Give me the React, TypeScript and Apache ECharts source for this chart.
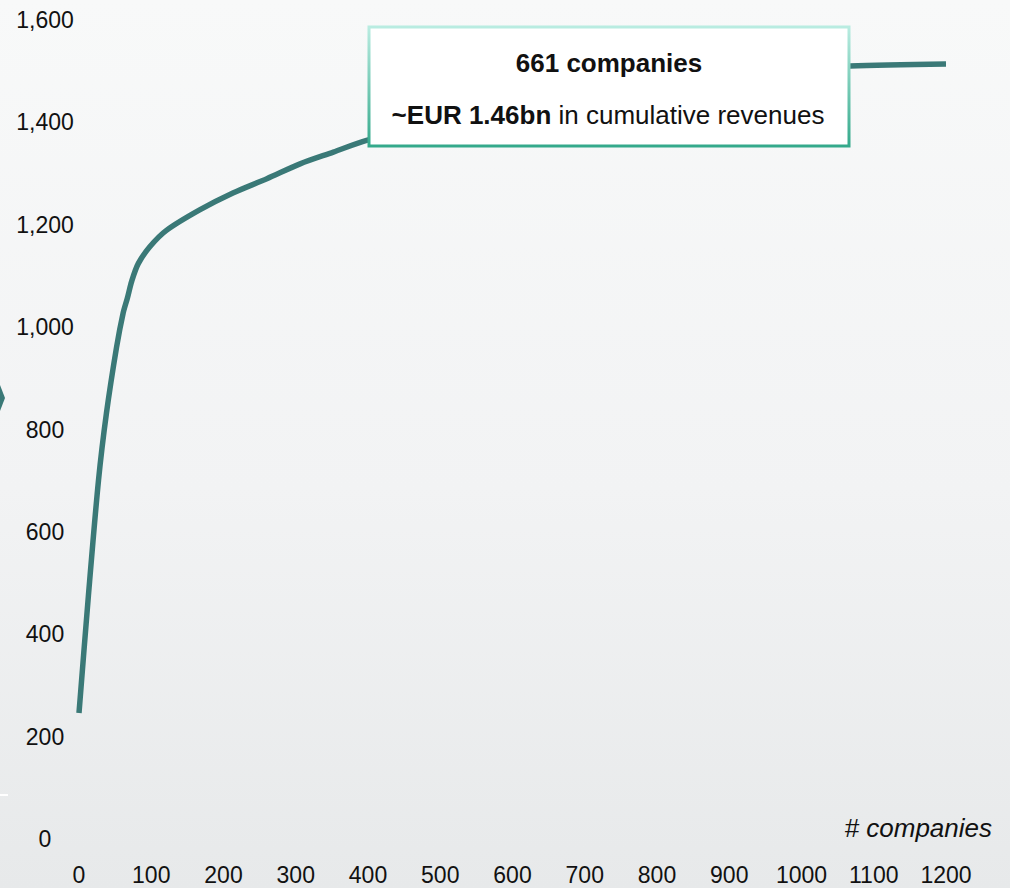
import React, { useEffect, useRef } from "react";
import * as echarts from "echarts";

const companies = [0, 13, 27, 38, 52, 61, 67, 73, 82, 98, 121, 167, 213, 260, 306, 352, 398, 500, 600, 661, 800, 950, 1067, 1200];
const revenues = [246, 475, 701, 832, 961, 1027, 1057, 1090, 1124, 1157, 1189, 1229, 1262, 1290, 1319, 1342, 1365, 1400, 1435, 1455, 1485, 1502, 1510, 1514];
const xTicks = [0, 100, 200, 300, 400, 500, 600, 700, 800, 900, 1000, 1100, 1200];
const yTicks = [0, 200, 400, 600, 800, 1000, 1200, 1400, 1600];
const boxTitle = "661 companies";
const boxBold = "~EUR 1.46bn";
const boxRest = " in cumulative revenues";
const xAxisName = "# companies";

const FONT = "'Liberation Sans', Arial, sans-serif";

export default function App() {
  const ref = useRef<HTMLDivElement>(null);
  useEffect(() => {
    if (!ref.current) return;
    const chart = echarts.init(ref.current, null, { renderer: "svg" });
    const data = companies.map((c, i) => [c, revenues[i]]);
    chart.setOption({
      animation: false,
      backgroundColor: new echarts.graphic.LinearGradient(0, 0, 0, 1, [
        { offset: 0, color: "#f8f9f9" },
        { offset: 0.55, color: "#f2f3f4" },
        { offset: 1, color: "#e7e9ea" },
      ]),
      grid: { left: 79, right: 64, top: 20, bottom: 49, containLabel: false },
      xAxis: {
        type: "value",
        min: 0,
        max: 1200,
        interval: 100,
        axisLine: { show: false },
        axisTick: { show: false },
        splitLine: { show: false },
        axisLabel: {
          color: "#111",
          fontSize: 23,
          fontFamily: FONT,
          margin: 24,
          formatter: (v: number) => (xTicks.includes(v) ? String(v) : ""),
        },
      },
      yAxis: {
        type: "value",
        min: 0,
        max: 1600,
        interval: 200,
        axisLine: { show: false },
        axisTick: { show: false },
        splitLine: { show: false },
        axisLabel: {
          color: "#111",
          fontSize: 23,
          fontFamily: FONT,
          margin: 34,
          align: "center",
          formatter: (v: number) => (yTicks.includes(v) ? v.toLocaleString("en-US") : ""),
        },
      },
      series: [
        {
          type: "line",
          data,
          smooth: 0.3,
          symbol: "none",
          lineStyle: { color: "#3a7977", width: 5.5 },
          z: 2,
        },
      ],
      graphic: [
        {
          type: "polygon",
          shape: { points: [[0, 385], [5, 398], [0, 411]] },
          style: { fill: "#3a7977" },
          z: 1,
        },
        {
          type: "rect",
          shape: { x: 0, y: 794, width: 8, height: 2 },
          style: { fill: "#ffffff" },
          z: 1,
        },
        {
          type: "text",
          x: 992,
          y: 828,
          style: {
            text: xAxisName,
            fill: "#111",
            font: `italic 26px ${FONT}`,
            align: "right",
            verticalAlign: "middle",
          },
          z: 5,
        },
        {
          type: "rect",
          shape: { x: 369, y: 27, width: 480, height: 119 },
          style: {
            fill: "#ffffff",
            lineWidth: 3,
            stroke: new echarts.graphic.LinearGradient(0, 0, 0, 1, [
              { offset: 0, color: "#b9ece1" },
              { offset: 1, color: "#34a98b" },
            ]),
          },
          z: 10,
        },
        {
          type: "text",
          x: 609,
          y: 63,
          style: {
            text: boxTitle,
            fill: "#111",
            font: `bold 26px ${FONT}`,
            align: "center",
            verticalAlign: "middle",
          },
          z: 11,
        },
        {
          type: "text",
          x: 608,
          y: 115,
          style: {
            text: `{b|${boxBold}}{n|${boxRest}}`,
            fill: "#111",
            align: "center",
            verticalAlign: "middle",
            rich: {
              b: { font: `bold 26px ${FONT}`, fill: "#111" },
              n: { font: `26px ${FONT}`, fill: "#111" },
            },
          },
          z: 11,
        },
      ],
    });
    return () => chart.dispose();
  }, []);
  return (
    <div
      ref={ref}
      style={{ position: "fixed", left: 0, top: 0, width: 1010, height: 888 }}
    />
  );
}
